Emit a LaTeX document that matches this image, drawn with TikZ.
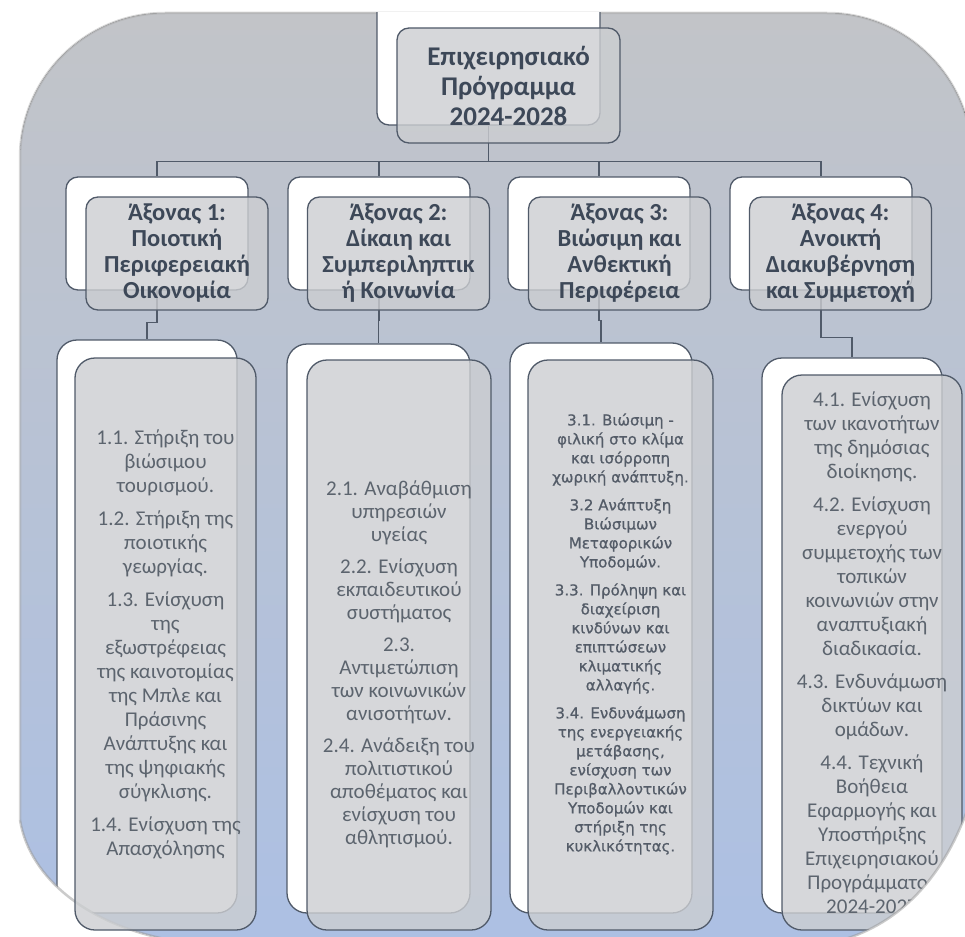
\documentclass[tikz,border=0pt]{standalone}
\usepackage{fontspec}
\setmainfont{Carlito}
\newfontfamily\dejavu[FakeBold=0.8]{DejaVu Sans}
\definecolor{edge}{RGB}{80,90,105}
\definecolor{headtext}{RGB}{61,72,88}
\definecolor{itemtext}{RGB}{92,100,110}
\definecolor{smalltext}{RGB}{84,92,104}
\definecolor{frontfill}{RGB}{204,206,209}
\definecolor{bgtop}{RGB}{194,196,200}
\definecolor{bgbottom}{RGB}{172,192,228}
\newcommand{\itemgap}{\\[9pt]}
\begin{document}
\begin{tikzpicture}[x=1pt, y=-1pt,
    line/.style={draw=edge, line width=1.3pt},
    backbox/.style={draw=edge, line width=1.3pt, fill=white, rounded corners=#1, inner sep=0pt},
    backbox/.default=12pt,
    frontbox/.style={draw=edge, line width=1.3pt, fill=frontfill, fill opacity=0.8, text opacity=1,
      rounded corners=#1, inner sep=0pt, align=center},
    frontbox/.default=12pt,
    head/.style={font=\fontsize{24.5}{26}\selectfont\bfseries, text=headtext},
    item/.style={font=\fontsize{21}{24}\selectfont, text=itemtext, align=center}]
  \useasboundingbox (0,0) rectangle (965,936);
  \clip (0,0) rectangle (965,936);
  % page background
  \fill[top color=bgtop, bottom color=bgbottom] (165,13) -- (827,13) .. controls (907,13) and (972,78) .. (972,158)
    -- (972,960) -- (170,960) -- (170,940) .. controls (90,925) and (30,880) .. (20,820)
    -- (20,158) .. controls (20,78) and (85,13) .. (165,13) -- cycle;
  \draw[gray!70, line width=2.5pt, opacity=0.45] (20,820) -- (20,158) .. controls (20,78) and (85,13) .. (165,13)
    -- (827,13) .. controls (907,13) and (972,78) .. (972,158);
  % back boxes
  \begin{scope}
    \clip (0,13) rectangle (965,400);
    \node[backbox, minimum width=223pt, minimum height=125pt] (rootb) at (488.5,62.5) {};
  \end{scope}
  \node[backbox, minimum width=182pt, minimum height=113pt] (a1b) at (157,233.5) {};
  \node[backbox, minimum width=182pt, minimum height=113pt] (a2b) at (379,233.5) {};
  \node[backbox, minimum width=182pt, minimum height=113pt] (a3b) at (599,233.5) {};
  \node[backbox, minimum width=182pt, minimum height=113pt] (a4b) at (821,233.5) {};
  \node[backbox=20pt, minimum width=180pt, minimum height=573pt] (b1b) at (147,626.5) {};
  \node[backbox=20pt, minimum width=183pt, minimum height=569pt] (b2b) at (378.5,628.5) {};
  \node[backbox=20pt, minimum width=182pt, minimum height=570pt] (b3b) at (601,628) {};
  \node[backbox=20pt, minimum width=180pt, minimum height=555pt] (b4b) at (852,635.5) {};
  % connectors
  \draw[line] (rootb.south) -- ++(0,36) coordinate (bus);
  \draw[line] (bus) -| (a1b.north);
  \draw[line] (bus) -| (a2b.north);
  \draw[line] (bus) -| (a3b.north);
  \draw[line] (bus) -| (a4b.north);
  \draw[line] (a1b.south) -- ++(0,32) -| (b1b.north);
  \draw[line] (a2b.south) -- ++(0,30) -| (b2b.north);
  \draw[line] (a3b.south) -- ++(0,30) -| (b3b.north);
  \draw[line] (a4b.south) -- ++(0,47) -| (b4b.north);
  % lower left page corner
  \fill[white] (20,820) .. controls (30,880) and (90,925) .. (170,940) -- (0,940) -- (0,820) -- cycle;
  \draw[gray!80, line width=2.5pt, opacity=0.5] (20,820) .. controls (30,880) and (90,925) .. (170,940);
  % front boxes
  \node[frontbox, font=\fontsize{27}{30}\selectfont\bfseries, text=headtext, minimum width=223pt, minimum height=115pt]
    (rootf) at (508.5,85.5) {Επιχειρησιακό\\Πρόγραμμα\\2024-2028};
  \node[frontbox, head, minimum width=182pt, minimum height=113pt] (a1f) at (177,253.5)
    {Άξονας 1:\\Ποιοτική\\Περιφερειακή\\Οικονομία};
  \node[frontbox, head, minimum width=182pt, minimum height=113pt] (a2f) at (398.5,253.5)
    {Άξονας 2:\\Δίκαιη και\\Συμπεριληπτικ\\ή Κοινωνία};
  \node[frontbox, head, minimum width=182pt, minimum height=113pt] (a3f) at (619.5,253.5)
    {Άξονας 3:\\Βιώσιμη και\\Ανθεκτική\\Περιφέρεια};
  \node[frontbox, head, minimum width=182pt, minimum height=113pt] (a4f) at (840.5,253.5)
    {Άξονας 4:\\Ανοικτή\\Διακυβέρνηση\\και Συμμετοχή};
  \node[frontbox=20pt, item, minimum width=181pt, minimum height=572pt] (b1f) at (165.5,644)
    {1.1. Στήριξη του\\βιώσιμου\\τουρισμού.\itemgap 1.2. Στήριξη της\\ποιοτικής\\γεωργίας.\itemgap
     1.3. Ενίσχυση\\της\\εξωστρέφειας\\της καινοτομίας\\της Μπλε και\\Πράσινης\\Ανάπτυξης και\\της ψηφιακής\\σύγκλισης.\itemgap
     1.4. Ενίσχυση της\\Απασχόλησης};
  \node[frontbox=20pt, minimum width=184pt, minimum height=570pt] (b2f) at (399,645) {};
  \node[item, font=\fontsize{21}{23}\selectfont] (b2t) at (399,664)
    {2.1. Αναβάθμιση\\υπηρεσιών\\υγείας\itemgap 2.2. Ενίσχυση\\εκπαιδευτικού\\συστήματος\itemgap
     2.3.\\Αντιμετώπιση\\των κοινωνικών\\ανισοτήτων.\itemgap
     2.4. Ανάδειξη του\\πολιτιστικού\\αποθέματος και\\ενίσχυση του\\αθλητισμού.};
  \node[frontbox=20pt, minimum width=185pt, minimum height=570pt] (b3f) at (620.5,645) {};
  \node[item, font=\dejavu\fontsize{15}{19}\selectfont, text=smalltext] (b3t) at (620.5,634)
    {3.1. Βιώσιμη -\\φιλική στο κλίμα\\και ισόρροπη\\χωρική ανάπτυξη.\itemgap 3.2 Ανάπτυξη\\Βιώσιμων\\Μεταφορικών\\Υποδομών.\itemgap
     3.3. Πρόληψη και\\διαχείριση\\κινδύνων και\\επιπτώσεων\\κλιματικής\\αλλαγής.\itemgap
     3.4. Ενδυνάμωση\\της ενεργειακής\\μετάβασης,\\ενίσχυση των\\Περιβαλλοντικών\\Υποδομών και\\στήριξη της\\κυκλικότητας.};
  \node[frontbox=20pt, item, minimum width=180pt, minimum height=555pt] (b4f) at (872,652.5)
    {4.1. Ενίσχυση\\των ικανοτήτων\\της δημόσιας\\διοίκησης.\itemgap 4.2. Ενίσχυση\\ενεργού\\συμμετοχής των\\τοπικών\\κοινωνιών στην\\αναπτυξιακή\\διαδικασία.\itemgap
     4.3. Ενδυνάμωση\\δικτύων και\\ομάδων.\itemgap
     4.4. Τεχνική\\Βοήθεια\\Εφαρμογής και\\Υποστήριξης\\Επιχειρησιακού\\Προγράμματος\\2024-2027};
  % lower right page corner
  \fill[white] (968,808) .. controls (943,878) and (900,923) .. (842,940) -- (970,940) -- cycle;
  \draw[gray!80, line width=2.5pt, opacity=0.5] (968,808) .. controls (943,878) and (900,923) .. (842,940);
\end{tikzpicture}
\end{document}
